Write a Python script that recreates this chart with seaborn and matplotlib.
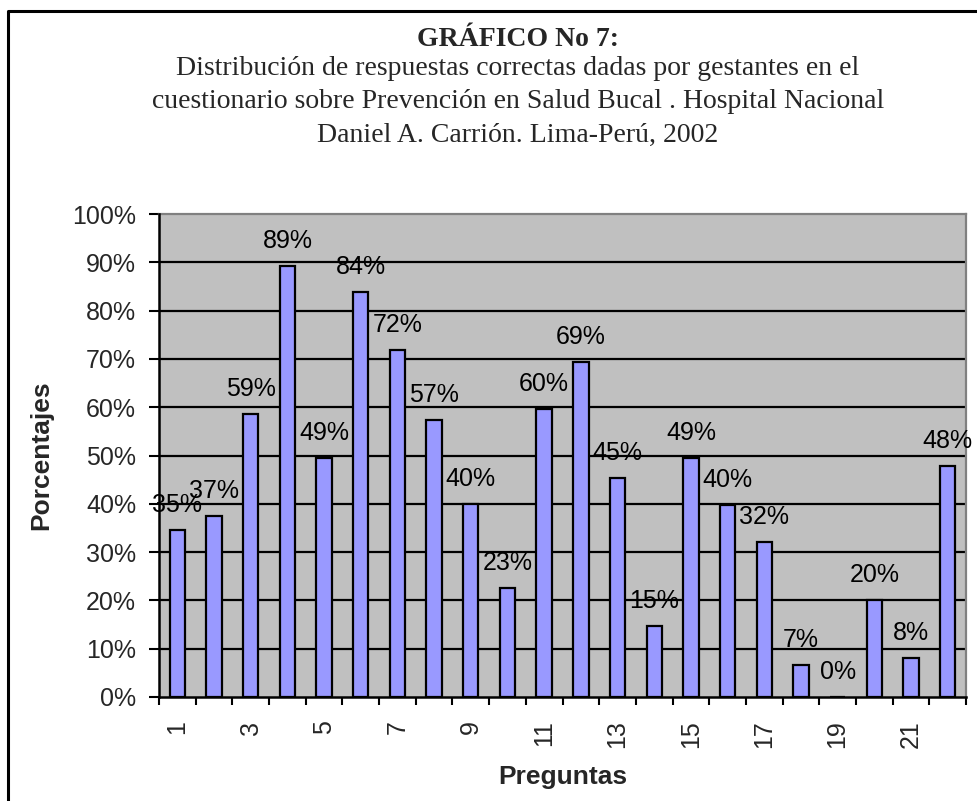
import matplotlib
matplotlib.use("Agg")
import matplotlib.pyplot as plt
import seaborn as sns
import pandas as pd
from matplotlib.lines import Line2D

# ---- data ----
preguntas = [str(i) for i in range(1, 23)]
porcentajes = [34.6, 37.4, 58.6, 89.3, 49.4, 83.9, 71.8, 57.3, 40.0, 22.6, 59.6,
               69.3, 45.4, 14.7, 49.4, 39.8, 32.1, 6.6, 0.0, 20.1, 8.1, 47.9]
y_ticks = [0, 10, 20, 30, 40, 50, 60, 70, 80, 90, 100]
title_bold = "GRÁFICO No 7:"
title_lines = [
    "Distribución de respuestas correctas dadas por gestantes en el",
    "cuestionario sobre Prevención en Salud Bucal . Hospital Nacional",
    "Daniel A. Carrión. Lima-Perú, 2002",
]

df = pd.DataFrame({"Pregunta": preguntas, "Porcentaje": porcentajes})

sns.set_style("white")
plt.rcParams["font.family"] = ["Liberation Sans", "DejaVu Sans"]

W, H = 977, 801
fig = plt.figure(figsize=(W / 100, H / 100), dpi=100)
fig.patch.set_facecolor("white")

ax = fig.add_axes([159 / W, 1 - 697 / H, (966 - 159) / W, (697 - 214) / H])
ax.set_facecolor("#C0C0C0")

sns.barplot(data=df, x="Pregunta", y="Porcentaje", order=preguntas,
            color="#9999FF", saturation=1, width=0.42,
            edgecolor="black", linewidth=1.6, ax=ax, zorder=3)

ax.set_ylim(0, 100)
ax.set_xlim(-0.5, len(preguntas) - 0.5)
ax.set_yticks(y_ticks)
ax.set_yticklabels([f"{v}%" for v in y_ticks], fontsize=18)
for v in y_ticks[1:-1]:
    ax.axhline(v, color="black", lw=1.6, zorder=1)

# x ticks: marks at category boundaries, labels at centres (odd ones)
ax.set_xticks([i - 0.5 for i in range(len(preguntas) + 1)])
ax.set_xticklabels([])
ax.set_xticks(range(len(preguntas)), minor=True)
ax.set_xticklabels([p if int(p) % 2 == 1 else "" for p in preguntas],
                   minor=True, rotation=90, fontsize=18, va="top", ha="center")
ax.tick_params(axis="x", which="major", length=6, width=1.5, color="black",
               direction="out", bottom=True)
ax.tick_params(axis="x", which="minor", length=0, pad=17)
ax.tick_params(axis="y", length=7.5, width=1.5, color="black", direction="out",
               left=True, pad=9)

for side in ["left", "bottom"]:
    ax.spines[side].set_color("black")
    ax.spines[side].set_linewidth(1.8)
    ax.spines[side].set_zorder(5)
for side in ["top", "right"]:
    ax.spines[side].set_color("#808080")
    ax.spines[side].set_linewidth(1.6)

# data labels
for i, v in enumerate(porcentajes):
    ax.annotate(f"{round(v):d}%", xy=(i, v), xytext=(0, 25),
                textcoords="offset pixels", ha="center", va="center",
                fontsize=18, color="black", zorder=6)

ax.set_xlabel("Preguntas", fontsize=19, fontweight="bold")
ax.set_ylabel("Porcentajes", fontsize=19, fontweight="bold")
ax.xaxis.label.set_va("center")
ax.yaxis.label.set_va("center")
ax.xaxis.set_label_coords(0.5, -(777 - 697) / (697 - 214))
ax.yaxis.set_label_coords(-(159 - 41) / (966 - 159), 0.5)

# titles (serif)
serif = ["Liberation Serif", "DejaVu Serif"]
cx = 518 / W
fig.text(cx, 1 - 45.7 / H, title_bold, ha="center", va="baseline",
         fontsize=20, fontweight="bold", family=serif)
for line, yb in zip(title_lines, [75, 108.5, 141.7]):
    fig.text(cx, 1 - yb / H, line, ha="center", va="baseline",
             fontsize=20, family=serif)

# outer frame (only left and top edges are inside the picture)
fig.lines.append(Line2D([7.5 / W, 7.5 / W, 1.0], [0.0, 1 - 10.5 / H, 1 - 10.5 / H],
                        transform=fig.transFigure, color="black", linewidth=2.2))

fig.savefig("out.png", dpi=100)
